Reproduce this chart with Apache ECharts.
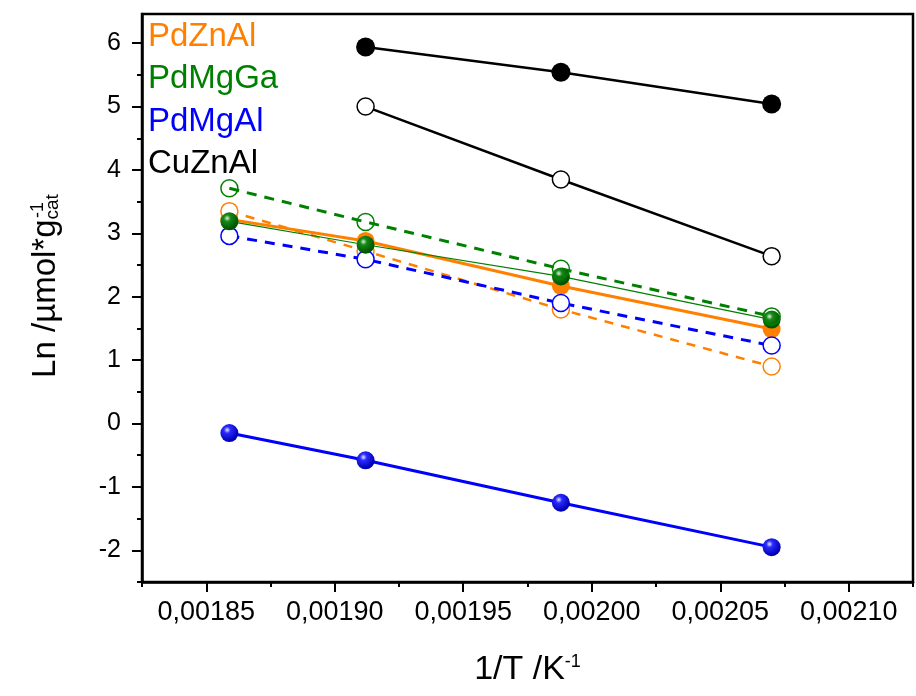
<!DOCTYPE html>
<html lang="en">
<head>
  <meta charset="UTF-8">
  <title>Ln rate vs 1/T</title>
  <script src="https://cdn.jsdelivr.net/npm/echarts@6.0.0/dist/echarts.min.js"></script>
  <style>
    html, body { margin: 0; padding: 0; background: #fff; }
    #chart { width: 916px; height: 696px; }
  </style>
</head>
<body>
  <div id="chart"></div>
  <script>
    // 1/T (K^-1) for 538, 523, 503, 483 K
    const invT = [0.001859, 0.001912, 0.001988, 0.002070]

    const pdZnAlFilled = [3.22, 2.88, 2.17, 1.49]
    const pdZnAlOpen = [3.35, 2.72, 1.80, 0.90]
    const pdMgAlOpen = [2.96, 2.59, 1.90, 1.23]
    const pdMgAlFilled = [-0.15, -0.58, -1.25, -1.95]
    const pdMgGaFilled = [3.19, 2.82, 2.32, 1.64]
    const pdMgGaOpen = [3.71, 3.18, 2.44, 1.69]
    const cuZnAlFilled = [null, 5.94, 5.54, 5.04]
    const cuZnAlOpen = [null, 5.00, 3.85, 2.64]

    const xMajor = [0.00185, 0.00190, 0.00195, 0.00200, 0.00205, 0.00210]
    const xMinor = [0.001825, 0.001875, 0.001925, 0.001975, 0.002025, 0.002075, 0.002125]
    const yMajor = [-2, -1, 0, 1, 2, 3, 4, 5, 6]
    const yMinor = [-2.5, -1.5, -0.5, 0.5, 1.5, 2.5, 3.5, 4.5, 5.5]

    const orange = '#ff8000'
    const green = '#008000'
    const blue = '#0000ff'
    const black = '#000000'
    const font = 'Arial, "Liberation Sans", sans-serif'

    function pts(ys) {
      return invT.map((x, i) => [x, ys[i]]).filter(p => p[1] != null)
    }

    function sphere(c0, c1, c2) {
      return new echarts.graphic.RadialGradient(0.38, 0.33, 0.62, [
        { offset: 0, color: c0 },
        { offset: 0.3, color: c1 },
        { offset: 1, color: c2 }
      ])
    }

    function filled(name, ys, color, fill, width, size) {
      return {
        name: name, type: 'line', data: pts(ys),
        symbol: 'circle', symbolSize: size,
        itemStyle: { color: fill },
        lineStyle: { color: color, width: width, type: 'solid' }
      }
    }

    function open(name, ys, color, fill, width, dash) {
      return {
        name: name, type: 'line', data: pts(ys),
        symbol: 'circle', symbolSize: 17,
        itemStyle: { color: fill, borderColor: color, borderWidth: 1.5 },
        lineStyle: { color: color, width: width, type: dash }
      }
    }

    const chart = echarts.init(document.getElementById('chart'))
    chart.setOption({
      animation: false,
      textStyle: { fontFamily: font },
      grid: {
        left: 142, right: 3, top: 14, bottom: 114,
        show: true, borderColor: '#000', borderWidth: 2.5,
        containLabel: false, outerBoundsMode: 'none'
      },
      legend: {
        orient: 'vertical', left: 142, top: 20, padding: 0,
        itemWidth: 0, itemHeight: 0, itemGap: 9.5,
        selectedMode: false,
        textStyle: { fontSize: 33, lineHeight: 31, fontFamily: font },
        data: [
          { name: 'PdZnAl', textStyle: { color: orange } },
          { name: 'PdMgGa', textStyle: { color: green } },
          { name: 'PdMgAl', textStyle: { color: blue } },
          { name: 'CuZnAl', textStyle: { color: black } }
        ]
      },
      xAxis: [{
        type: 'value', position: 'bottom',
        min: 0.001825, max: 0.002125,
        axisLine: { show: true, onZero: false, lineStyle: { color: '#000', width: 2.5 } },
        axisTick: { show: true, customValues: xMajor, length: 10, lineStyle: { color: '#000', width: 2 } },
        axisLabel: {
          customValues: xMajor, fontSize: 27, color: '#000', margin: 17,
          formatter: v => v.toFixed(5).replace('.', ',')
        },
        splitLine: { show: false },
        name: '1/T /K{sup|-1}', nameLocation: 'middle', nameGap: 71,
        nameTextStyle: {
          fontSize: 34, color: '#000', fontFamily: font,
          rich: { sup: { fontSize: 18, verticalAlign: 'top', fontFamily: font, color: '#000' } }
        }
      }, {
        type: 'value', position: 'bottom',
        min: 0.001825, max: 0.002125,
        axisLine: { show: false, onZero: false },
        axisTick: { show: true, customValues: xMinor, length: 5, lineStyle: { color: '#000', width: 2 } },
        axisLabel: { show: false },
        splitLine: { show: false }
      }],
      yAxis: [{
        type: 'value', position: 'left',
        min: -2.5, max: 6.46,
        axisLine: { show: true, onZero: false, lineStyle: { color: '#000', width: 2.5 } },
        axisTick: { show: true, customValues: yMajor, length: 10, lineStyle: { color: '#000', width: 2 } },
        axisLabel: { customValues: yMajor, fontSize: 25, color: '#000', margin: 21 },
        splitLine: { show: false },
        name: 'Ln /µmol*g{sub|c}{sup|-1}{sub|at}', nameLocation: 'middle', nameGap: 80, nameRotate: 90,
        nameTextStyle: {
          fontSize: 33, color: '#000', fontFamily: font, padding: [0, 0, 0, 24],
          rich: {
            sub: { fontSize: 19, verticalAlign: 'bottom', fontFamily: font, color: '#000' },
            sup: { fontSize: 18, verticalAlign: 'top', width: 0, fontFamily: font, color: '#000' }
          }
        }
      }, {
        type: 'value', position: 'left',
        min: -2.5, max: 6.46,
        axisLine: { show: false, onZero: false },
        axisTick: { show: true, customValues: yMinor, length: 5, lineStyle: { color: '#000', width: 2 } },
        axisLabel: { show: false },
        splitLine: { show: false }
      }],
      series: [
        filled('PdZnAl', pdZnAlFilled, orange, orange, 3, 18),
        open('PdZnAl', pdZnAlOpen, orange, '#ffffff', 2.5, [9, 8]),
        open('PdMgAl', pdMgAlOpen, blue, '#ffffff', 3, [10, 8]),
        filled('PdMgAl', pdMgAlFilled, blue, sphere('#e4e8ff', '#2a2aff', '#0000b4'), 3, 18),
        filled('PdMgGa', pdMgGaFilled, green, sphere('#dcefdc', '#168a16', '#005400'), 1.2, 18),
        open('PdMgGa', pdMgGaOpen, green, 'rgba(255,255,255,0)', 3, [10, 8]),
        filled('CuZnAl', cuZnAlFilled, black, black, 2.5, 19),
        open('CuZnAl', cuZnAlOpen, black, '#ffffff', 2.5, 'solid')
      ]
    })
  </script>
</body>
</html>
